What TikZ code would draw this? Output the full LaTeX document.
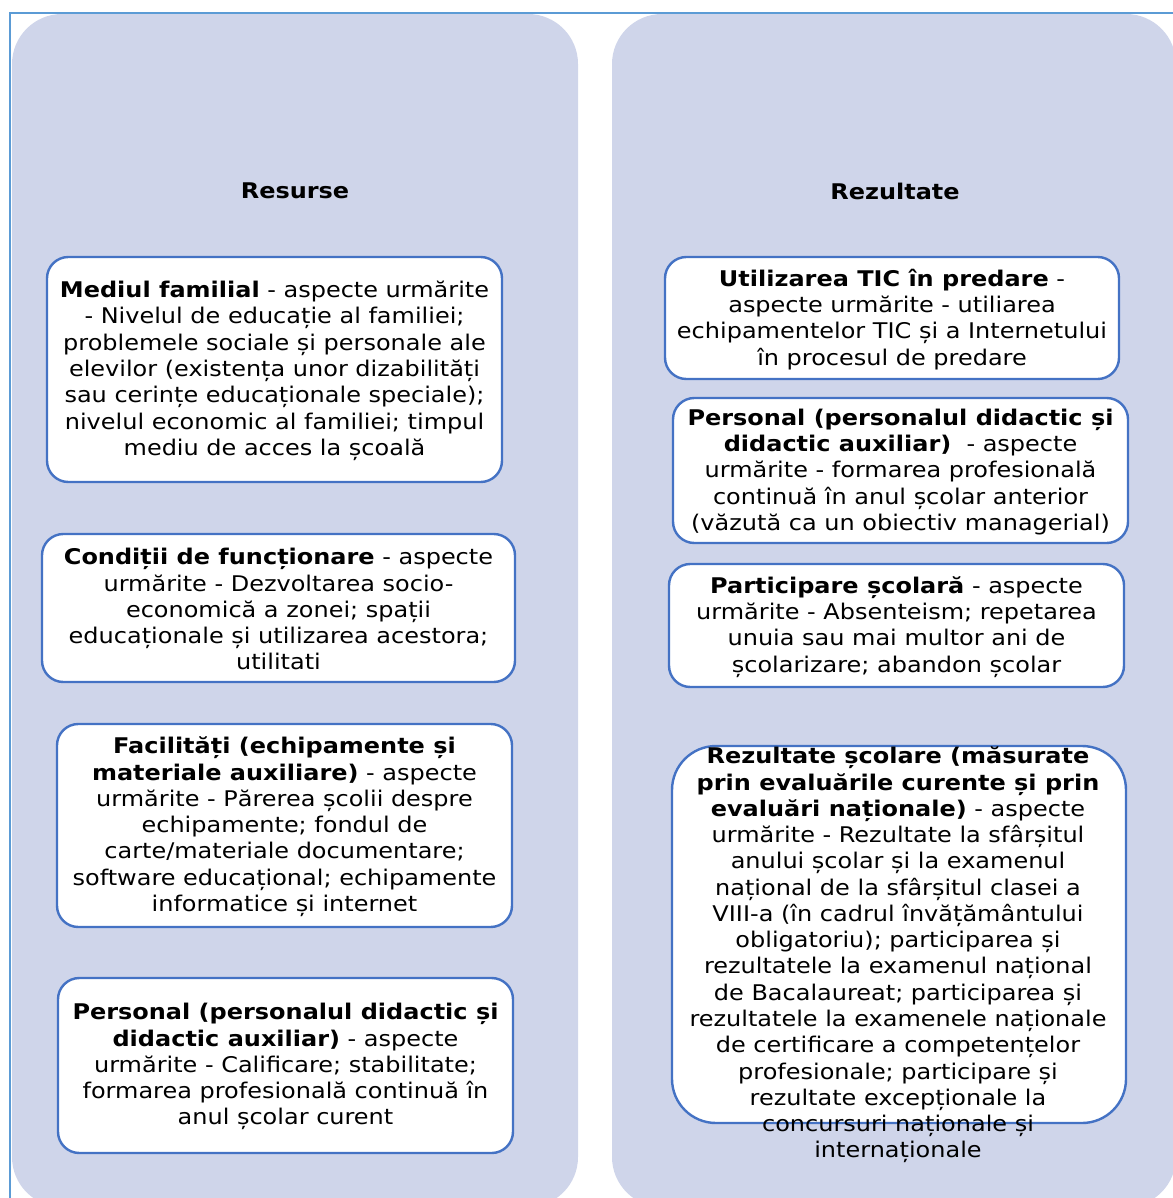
\documentclass[tikz,border=0pt]{standalone}
\usepackage{fontspec}
\setmainfont[FakeStretch=1.11]{DejaVu Sans}
\usetikzlibrary{fit}
\definecolor{panelfill}{HTML}{CFD5EA}
\definecolor{boxline}{HTML}{4472C4}
\definecolor{frameline}{HTML}{5B9BD5}
\begin{document}
\begin{tikzpicture}[x=0.75pt,y=-0.75pt,
  panel/.style={fill=panelfill,draw=none,rounded corners=37.5pt},
  itembox/.style={draw=boxline,line width=1.8pt,fill=white,rounded corners=16pt,inner sep=0pt},
  bigbox/.style={itembox,rounded corners=33pt},
  txt/.style={align=center,inner sep=0pt,font=\fontsize{16.2pt}{19.7pt}\selectfont},
  heading/.style={inner sep=0pt,font=\fontsize{16.2pt}{19.7pt}\selectfont\bfseries}]
\useasboundingbox (0,0) rectangle (1173,1198);
\clip (0,0) rectangle (1173,1198);

% two columns
\path[panel] (12,14) rectangle (578,1207);
\path[panel] (612,14) rectangle (1176,1207);
\draw[frameline,line width=1.8pt] (10,1198) -- (10,13) -- (1173,13);

\node[heading] (resurse) at (295,191) {Resurse};
\node[heading] (rezultate) at (895,191) {Rezultate};

% left column
\node[itembox,fit={(47,257) (502,482)}] (mediu) {};
\node[txt] (mediuT) at ([yshift=-1pt]mediu.center) {\textbf{Mediul familial} - aspecte urmărite\\
- Nivelul de educație al familiei;\\
problemele sociale și personale ale\\
elevilor (existența unor dizabilități\\
sau cerințe educaționale speciale);\\
nivelul economic al familiei; timpul\\
mediu de acces la școală};

\node[itembox,fit={(42,534) (515,682)}] (conditii) {};
\node[txt] (conditiiT) at ([yshift=-1pt]conditii.center) {\textbf{Condiții de funcționare} - aspecte\\
urmărite - Dezvoltarea socio-\\
economică a zonei; spații\\
educaționale și utilizarea acestora;\\
utilitati};

\node[itembox,fit={(57,724) (512,927)}] (facilitati) {};
\node[txt] (facilitatiT) at ([yshift=-1pt]facilitati.center) {\textbf{Facilități (echipamente și}\\
\textbf{materiale auxiliare)} - aspecte\\
urmărite - Părerea școlii despre\\
echipamente; fondul de\\
carte/materiale documentare;\\
software educațional; echipamente\\
informatice și internet};

\node[itembox,fit={(58,978) (513,1153)}] (personalL) {};
\node[txt] (personalLT) at ([yshift=-1pt]personalL.center) {\textbf{Personal (personalul didactic și}\\
\textbf{didactic auxiliar)} - aspecte\\
urmărite - Calificare; stabilitate;\\
formarea profesională continuă în\\
anul școlar curent};

% right column
\node[itembox,fit={(665,257) (1119,379)}] (tic) {};
\node[txt] (ticT) at ([yshift=-1pt]tic.center) {\textbf{Utilizarea TIC în predare} -\\
aspecte urmărite - utiliarea\\
echipamentelor TIC și a Internetului\\
în procesul de predare};

\node[itembox,fit={(673,398) (1128,543)}] (personalR) {};
\node[txt] (personalRT) at ([yshift=-1pt]personalR.center) {\textbf{Personal (personalul didactic și}\\
\textbf{didactic auxiliar)}\ \ - aspecte\\
urmărite - formarea profesională\\
continuă în anul școlar anterior\\
(văzută ca un obiectiv managerial)};

\node[itembox,fit={(669,564) (1124,687)}] (participare) {};
\node[txt] (participareT) at ([yshift=-1pt]participare.center) {\textbf{Participare școlară} - aspecte\\
urmărite - Absenteism; repetarea\\
unuia sau mai multor ani de\\
școlarizare; abandon școlar};

\node[bigbox,fit={(672,746) (1126,1123)}] (scolare) {};
\node[txt] (scolareT) at (898,955) {\textbf{Rezultate școlare (măsurate}\\
\textbf{prin evaluările curente și prin}\\
\textbf{evaluări naționale)} - aspecte\\
urmărite - Rezultate la sfârșitul\\
anului școlar și la examenul\\
național de la sfârșitul clasei a\\
VIII-a (în cadrul învățământului\\
obligatoriu); participarea și\\
rezultatele la examenul național\\
de Bacalaureat; participarea și\\
rezultatele la examenele naționale\\
de certificare a competențelor\\
profesionale; participare și\\
rezultate excepționale la\\
concursuri naționale și\\
internaționale};
\end{tikzpicture}
\end{document}
